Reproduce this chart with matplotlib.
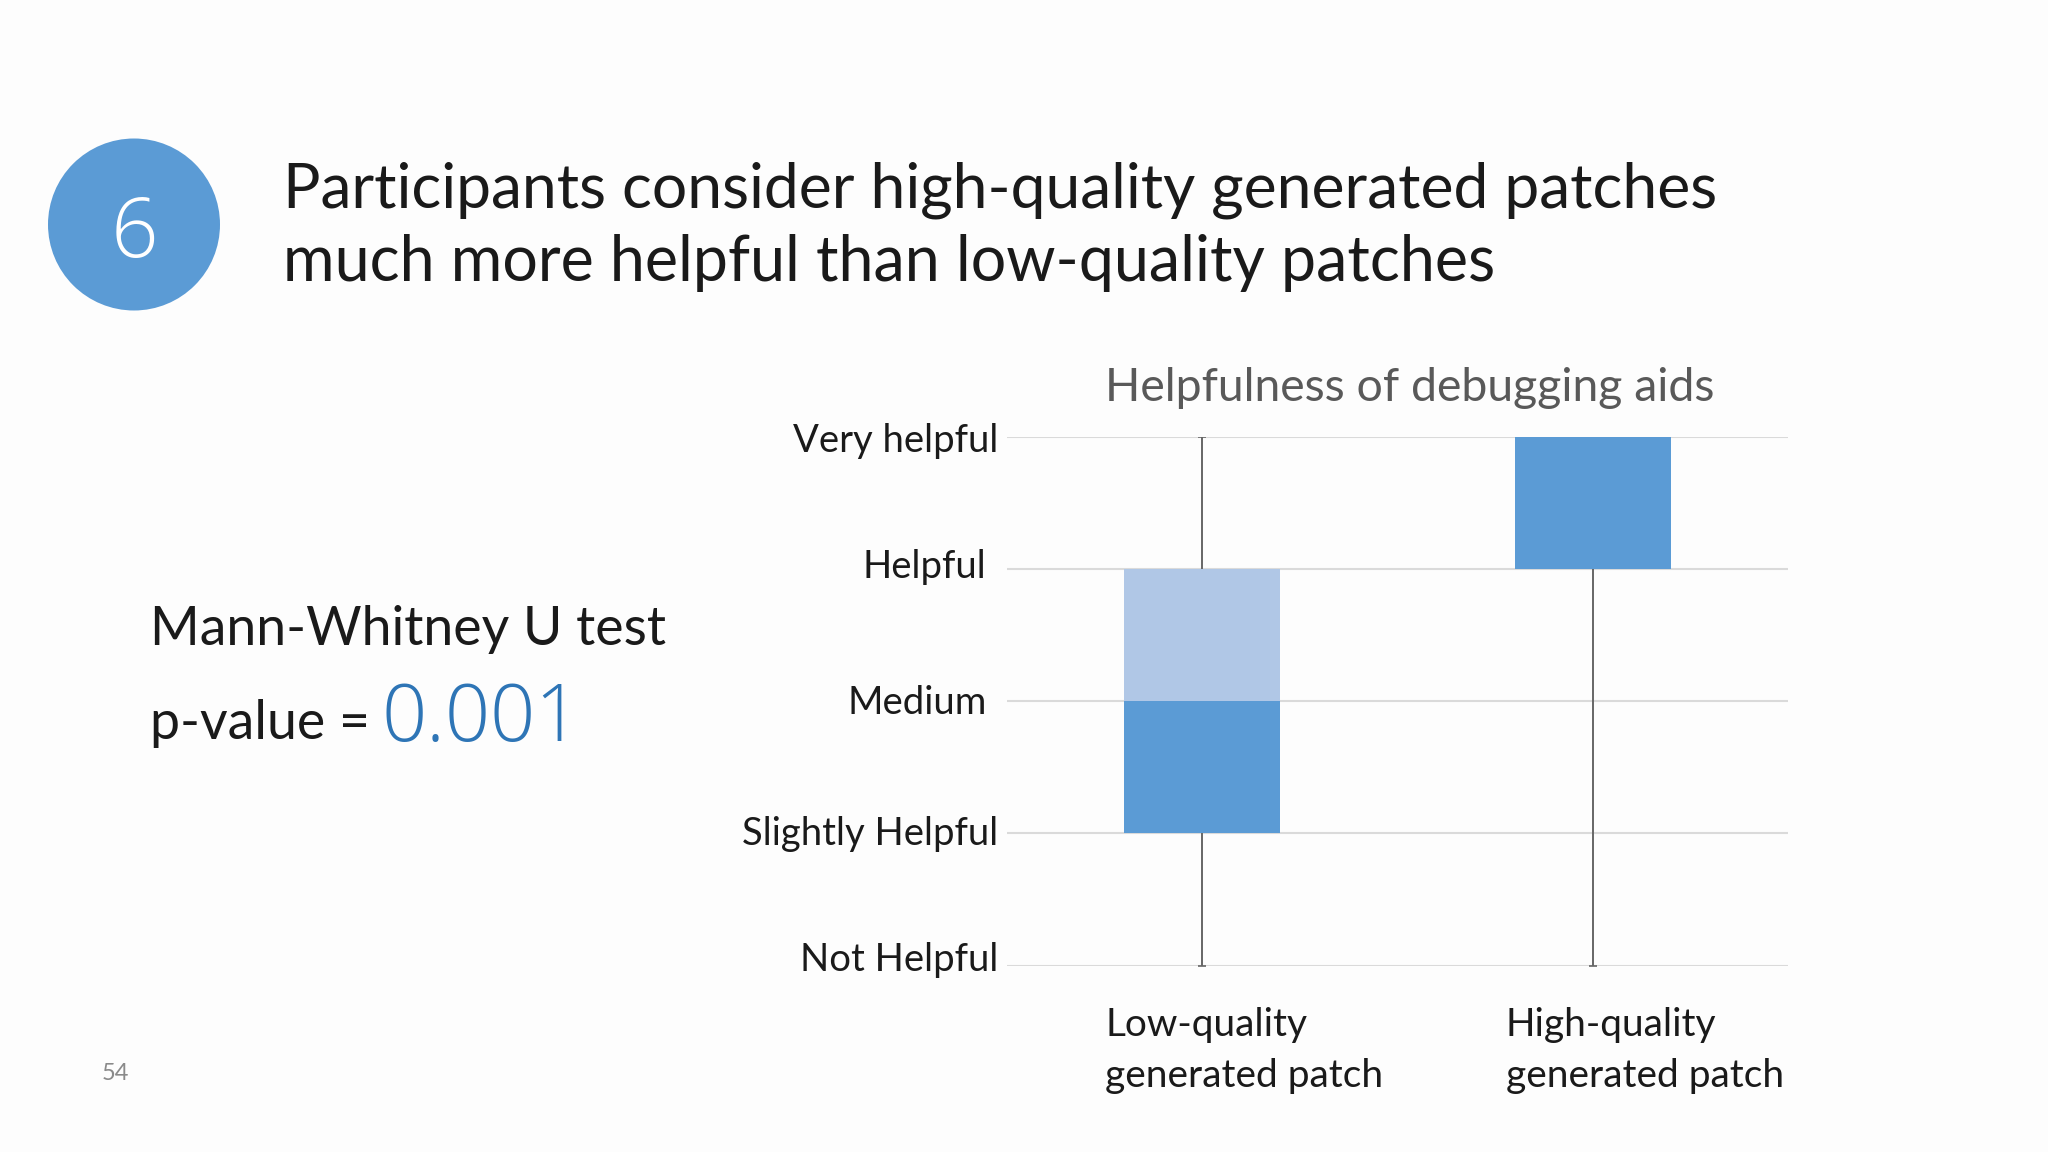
import matplotlib
matplotlib.use("Agg")
import matplotlib.pyplot as plt
from matplotlib.patches import Ellipse
from matplotlib.transforms import Affine2D

categories = ["Low-quality\ngenerated patch", "High-quality\ngenerated patch"]
levels = ["Not Helpful", "Slightly Helpful", "Medium", "Helpful", "Very helpful"]
whisker_low = [0, 0]
q1 = [1, 3]
median = [2, 3]
q3 = [3, 4]
whisker_high = [4, 4]
title_lines = ["Participants consider high-quality generated patches",
               "much more helpful than low-quality patches"]
chart_title = "Helpfulness of debugging aids"

W, H = 2048, 1152
plt.rcParams['font.family'] = ['Lato', 'DejaVu Sans']
fig = plt.figure(figsize=(W/100, H/100), dpi=100, facecolor='#FDFDFD')
bg = fig.add_axes([0, 0, 1, 1]); bg.set_xlim(0, W); bg.set_ylim(H, 0); bg.axis('off')
bg.add_patch(Ellipse((134, 224.5), 172, 172, color='#5B9BD5', lw=0))
bg.text(134, 235, "6", fontsize=60, color='white', ha='center', va='center',
        family=['Open Sans', 'DejaVu Sans'], fontweight='light')
bg.text(283, 190, title_lines[0], fontsize=44.9, color='#1a1a1a', va='center')
bg.text(283, 263, title_lines[1], fontsize=45.2, color='#1a1a1a', va='center')
bg.text(150, 629, "Mann-Whitney U test", fontsize=38.6, color='#1a1a1a', va='center')
bg.text(150, 724, "p-value =", fontsize=38.6, color='#1a1a1a', va='center')
bg.text(382, 720, "0.001", fontsize=57, color='#2E75B6', va='center',
        family=['Open Sans', 'DejaVu Sans'], fontweight='light')
bg.text(102, 1073, "54", fontsize=17, color='#8a8a8a', va='center')

ax = fig.add_axes([1007/W, 1-965.5/H, 781/W, 529/H], facecolor='none')
ax.set_xlim(-0.5, 1.5); ax.set_ylim(0, 4)
ax.set_yticks(range(5)); ax.set_yticklabels(levels, fontsize=27.5, color='#1a1a1a')
ax.set_xticks([0, 1]); ax.set_xticklabels(categories, fontsize=28, color='#1a1a1a', linespacing=1.5, ha='left')
ax.tick_params(length=0, pad=6)
ax.tick_params(axis='x', pad=30)
ax.grid(axis='y', color='#DADADA', lw=1.5)
ax.set_axisbelow(True)
for s in ax.spines.values():
    s.set_visible(False)
for i in range(2):
    ax.plot([i, i], [whisker_low[i], whisker_high[i]], color='#666666', lw=1.4, zorder=2,
            marker='_', markersize=6, markeredgewidth=1.2)
    ax.bar(i, median[i]-q1[i], bottom=q1[i], width=0.4, color='#5B9BD5', zorder=3)
    ax.bar(i, q3[i]-median[i], bottom=median[i], width=0.4, color='#B0C7E6' if i == 0 else '#5B9BD5', zorder=3)
for lab, dx in zip(ax.get_xticklabels(), (-97, -87)):
    lab.set_transform(lab.get_transform() + Affine2D().translate(dx, 0))
for lab, (dx, dy) in zip(ax.get_yticklabels(), ((0, 9), (0, 3), (-12, 2), (-12, 5), (0, -1))):
    lab.set_transform(lab.get_transform() + Affine2D().translate(dx, dy))
ax.text(0.515, 1.052, chart_title, transform=ax.transAxes, fontsize=33.4, color='#595959', ha='center', va='bottom')
fig.savefig("out.png", dpi=100, facecolor=fig.get_facecolor())
